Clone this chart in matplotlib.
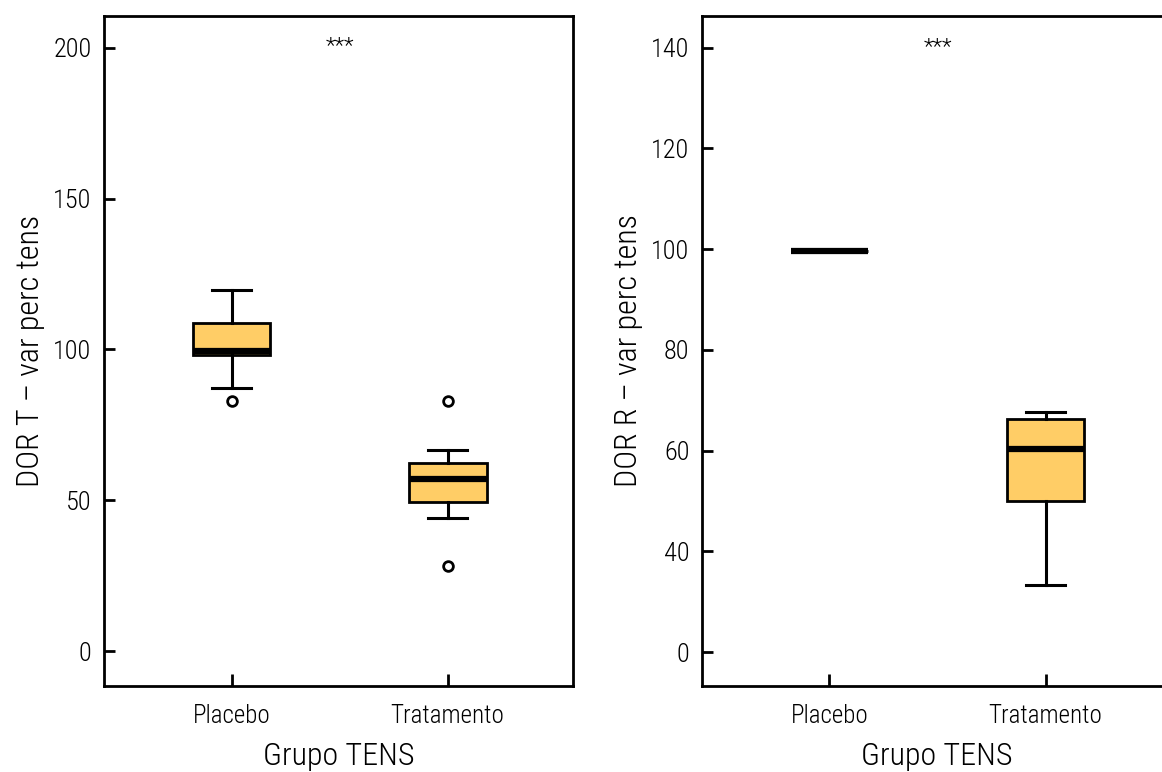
import matplotlib.pyplot as plt

plt.rcParams['font.family'] = ['Roboto Condensed', 'DejaVu Sans']
plt.rcParams['font.weight'] = 'light'
plt.rcParams['axes.labelweight'] = 'light'

groups = ['Placebo', 'Tratamento']
xlabel = 'Grupo TENS'
stars = '***'

# panel 1: DOR T
t_label = 'DOR T – var perc tens'
t_whislo = [87.3, 44.0]
t_q1 = [98.2, 49.5]
t_med = [99.4, 57.2]
t_q3 = [108.8, 62.2]
t_whishi = [119.7, 66.7]
t_fliers = [[82.9], [82.9, 28.3]]
t_ticks = [0, 50, 100, 150, 200]
t_ticklabels = ['0', '50', '100', '150', '200']
t_ylim = (-11.6, 210.6)
t_star_y = 200.3

# panel 2: DOR R (bottom tick is labelled 0 in the source image)
r_label = 'DOR R – var perc tens'
r_whislo = [99.6, 33.3]
r_q1 = [99.6, 50.1]
r_med = [99.6, 60.3]
r_q3 = [99.6, 66.3]
r_whishi = [99.6, 67.6]
r_fliers = [[], []]
r_ticks = [20, 40, 60, 80, 100, 120, 140]
r_ticklabels = ['0', '40', '60', '80', '100', '120', '140']
r_ylim = (13.3, 146.3)
r_star_y = 140.1

fill = '#FFCD66'


def make_stats(lo, q1, med, q3, hi, fl):
    return [dict(label=g, whislo=a, q1=b, med=c, q3=d, whishi=e, fliers=f)
            for g, a, b, c, d, e, f in zip(groups, lo, q1, med, q3, hi, fl)]


def draw(ax, stats, ylabel, ticks, ticklabels, ylim, star_y):
    ax.bxp(stats, positions=[1, 2], widths=0.36, patch_artist=True,
           showfliers=True,
           boxprops=dict(facecolor=fill, edgecolor='black', linewidth=2),
           medianprops=dict(color='black', linewidth=4.5, solid_capstyle='butt'),
           whiskerprops=dict(color='black', linewidth=2.2),
           capprops=dict(color='black', linewidth=2.2),
           flierprops=dict(marker='o', markerfacecolor='white',
                           markeredgecolor='black', markersize=7,
                           markeredgewidth=2))
    ax.set_xlim(0.41, 2.58)
    ax.set_ylim(*ylim)
    ax.set_yticks(ticks)
    ax.set_yticklabels(ticklabels)
    ax.set_xticks([1, 2])
    ax.set_xticklabels(groups)
    ax.tick_params(direction='in', width=2)
    ax.tick_params(axis='y', length=8, pad=9, labelsize=19)
    ax.tick_params(axis='x', length=9, pad=13, labelsize=18)
    for s in ax.spines.values():
        s.set_linewidth(2)
    ax.set_ylabel(ylabel, fontsize=23, labelpad=6)
    ax.set_xlabel(xlabel, fontsize=23, labelpad=10)
    ax.text(1.5, star_y, stars, ha='center', va='center', fontsize=16)


fig = plt.figure(figsize=(11.62, 7.72), dpi=100)
ax1 = fig.add_axes([0.0895, 0.1114, 0.4036, 0.8679])
ax2 = fig.add_axes([0.6041, 0.1114, 0.4036, 0.8679])

draw(ax1, make_stats(t_whislo, t_q1, t_med, t_q3, t_whishi, t_fliers),
     t_label, t_ticks, t_ticklabels, t_ylim, t_star_y)
draw(ax2, make_stats(r_whislo, r_q1, r_med, r_q3, r_whishi, r_fliers),
     r_label, r_ticks, r_ticklabels, r_ylim, r_star_y)

fig.savefig('out.png', dpi=100)
